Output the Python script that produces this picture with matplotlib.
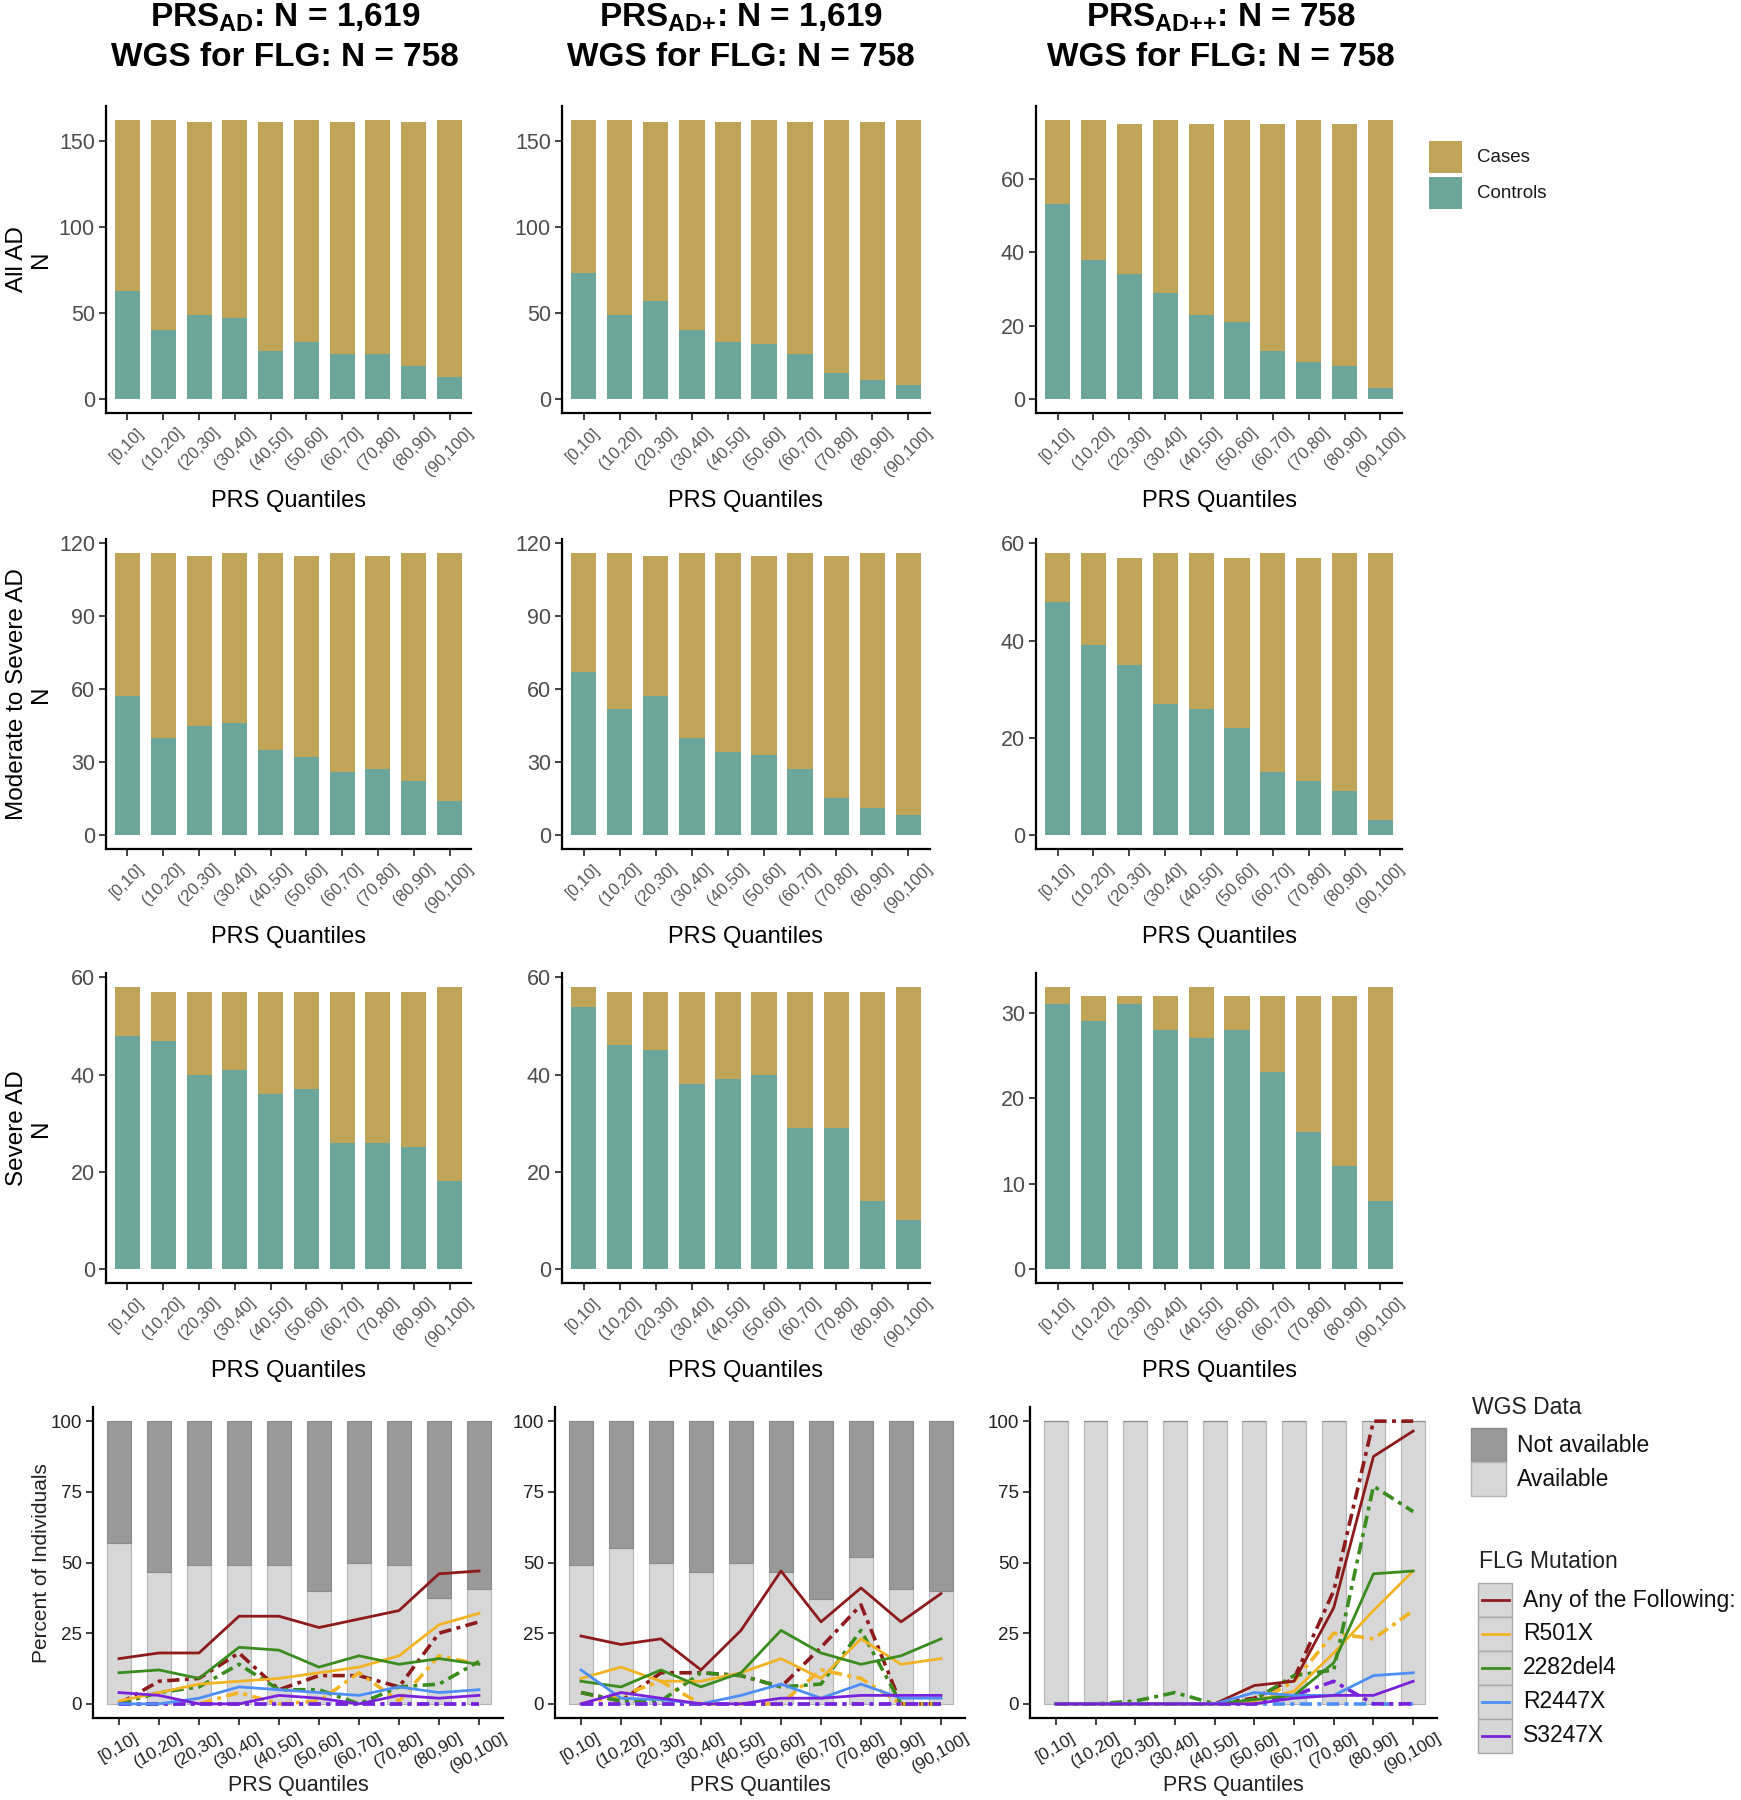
import matplotlib
matplotlib.use("Agg")
import matplotlib.pyplot as plt
from matplotlib.patches import Rectangle
from matplotlib.lines import Line2D

plt.rcParams['font.family'] = ['Liberation Sans', 'DejaVu Sans']
plt.rcParams['mathtext.default'] = 'regular'

# ---------------- data ----------------
quantiles = ["[0,10]", "(10,20]", "(20,30]", "(30,40]", "(40,50]",
             "(50,60]", "(60,70]", "(70,80]", "(80,90]", "(90,100]"]

col_titles = [r"PRS$_{AD}$: N = 1,619", r"PRS$_{AD{+}}$: N = 1,619", r"PRS$_{AD{+}{+}}$: N = 758"]
col_subtitles = ["WGS for FLG: N = 758"] * 3
row_labels = ["All AD\nN", "Moderate to Severe AD\nN", "Severe AD\nN"]

# All AD
all_controls_AD = [63, 40, 49, 47, 28, 33, 26, 26, 19, 13]
all_cases_AD = [99, 122, 112, 115, 133, 129, 135, 136, 142, 149]
all_controls_ADp = [73, 49, 57, 40, 33, 32, 26, 15, 11, 8]
all_cases_ADp = [89, 113, 104, 122, 128, 130, 135, 147, 150, 154]
all_controls_ADpp = [53, 38, 34, 29, 23, 21, 13, 10, 9, 3]
all_cases_ADpp = [23, 38, 41, 47, 52, 55, 62, 66, 66, 73]

# Moderate to severe AD
mod_controls_AD = [57, 40, 45, 46, 35, 32, 26, 27, 22, 14]
mod_cases_AD = [59, 76, 70, 70, 81, 83, 90, 88, 94, 102]
mod_controls_ADp = [67, 52, 57, 40, 34, 33, 27, 15, 11, 8]
mod_cases_ADp = [49, 64, 58, 76, 82, 82, 89, 100, 105, 108]
mod_controls_ADpp = [48, 39, 35, 27, 26, 22, 13, 11, 9, 3]
mod_cases_ADpp = [10, 19, 22, 31, 32, 35, 45, 46, 49, 55]

# Severe AD
sev_controls_AD = [48, 47, 40, 41, 36, 37, 26, 26, 25, 18]
sev_cases_AD = [10, 10, 17, 16, 21, 20, 31, 31, 32, 40]
sev_controls_ADp = [54, 46, 45, 38, 39, 40, 29, 29, 14, 10]
sev_cases_ADp = [4, 11, 12, 19, 18, 17, 28, 28, 43, 48]
sev_controls_ADpp = [31, 29, 31, 28, 27, 28, 23, 16, 12, 8]
sev_cases_ADpp = [2, 3, 1, 4, 6, 4, 9, 16, 20, 25]

# WGS availability (percent of individuals)
wgs_avail_AD = [57, 46.5, 49, 49, 49, 40, 50, 49, 37.5, 40.5]
wgs_avail_ADp = [49, 55, 50, 46.5, 50, 46.5, 37, 52, 40.5, 40]
wgs_avail_ADpp = [100, 100, 100, 100, 100, 100, 100, 100, 100, 100]

mutations = ["Any of the Following:", "R501X", "2282del4", "R2447X", "S3247X"]

# FLG mutation percentages, solid lines
flg_solid_AD = {
    "Any of the Following:": [16, 18, 18, 31, 31, 27, 30, 33, 46, 47],
    "R501X": [1, 4, 7, 8, 9, 11, 13, 17, 28, 32],
    "2282del4": [11, 12, 9, 20, 19, 13, 17, 14, 16, 14],
    "R2447X": [0, 0, 2, 6, 5, 4, 3, 6, 4, 5],
    "S3247X": [4, 3, 0, 0, 3, 2, 0, 3, 2, 3],
}
flg_dash_AD = {
    "Any of the Following:": [0, 8, 9, 18, 5, 10, 10, 6, 25, 29],
    "R501X": [0, 0, 0, 4, 0, 1, 11, 1, 17, 14],
    "2282del4": [0, 4, 6, 14, 5, 5, 0, 6, 7, 15],
    "R2447X": [0, 0, 0, 0, 0, 0, 0, 0, 0, 0],
    "S3247X": [0, 0, 0, 0, 0, 0, 0, 0, 0, 0],
}
flg_solid_ADp = {
    "Any of the Following:": [24, 21, 23, 12, 26, 47, 29, 41, 29, 39],
    "R501X": [9, 13, 8, 8, 11, 16, 9, 23, 14, 16],
    "2282del4": [8, 6, 12, 6, 11, 26, 18, 14, 17, 23],
    "R2447X": [12, 2, 1.5, 0, 3, 7, 2, 7, 2, 2],
    "S3247X": [0, 4, 2, 0, 0, 2, 2, 3, 3, 3],
}
flg_dash_ADp = {
    "Any of the Following:": [4, 1, 11, 11, 10, 6, 20, 35, 0, 0],
    "R501X": [0, 3, 8, 0, 0, 0, 12, 9, 0, 0],
    "2282del4": [4, 1, 1, 11, 10, 6, 7, 26, 0, 0],
    "R2447X": [0, 0, 0, 0, 0, 0, 0, 0, 0, 0],
    "S3247X": [0, 0, 0, 0, 0, 0, 0, 0, 0, 0],
}
flg_solid_ADpp = {
    "Any of the Following:": [0, 0, 0, 0, 0, 6.5, 8, 34, 87.5, 96.5],
    "R501X": [0, 0, 0, 0, 0, 1, 4.5, 18, 33, 47],
    "2282del4": [0, 0, 0, 0, 0, 1.5, 3, 14.5, 46, 47],
    "R2447X": [0, 0, 0, 0, 0, 4, 3, 3, 10, 11],
    "S3247X": [0, 0, 0, 0, 0, 0, 2, 3, 3, 8],
}
flg_dash_ADpp = {
    "Any of the Following:": [0, 0, 0, 0, 0, 2, 9, 40, 100, 100],
    "R501X": [0, 0, 0, 0, 0, 0, 8, 25, 23, 33],
    "2282del4": [0, 0, 1, 4, 0, 1.5, 10, 12, 77, 68],
    "R2447X": [0, 0, 0, 0, 0, 0, 0, 0, 0, 0],
    "S3247X": [0, 0, 0, 0, 0, 0, 3, 8, 0, 0],
}

# ---------------- style ----------------
C_CASES = "#C0A458"
C_CONTROLS = "#6CA59A"
C_NOTAV = "#999999"
C_AVAIL = "#D7D7D7"
mut_colors = {"Any of the Following:": "#8E1B1B", "R501X": "#F2B424",
              "2282del4": "#3B8C1F", "R2447X": "#4D8FF7", "S3247X": "#7A22DB"}
DASHDOT = (0, (3.4, 1.5, 1.1, 1.5))

W, H = 1741, 1800
fig = plt.figure(figsize=(W / 100, H / 100), dpi=100)


def add_ax(x0, y0, x1, y1):
    return fig.add_axes([x0 / W, 1 - y1 / H, (x1 - x0) / W, (y1 - y0) / H])


def style_axes(ax, ytick_size, ytick_color):
    for s in ("top", "right"):
        ax.spines[s].set_visible(False)
    for s in ("left", "bottom"):
        ax.spines[s].set_linewidth(1.6)
        ax.spines[s].set_color("black")
    ax.tick_params(axis="both", length=5, width=1.3, color="#333333")
    ax.tick_params(axis="y", labelsize=ytick_size, labelcolor=ytick_color, pad=3)


col_x = [(106, 471), (562, 930), (1036, 1402)]
row_y = [(106, 413), (539, 849), (973, 1283)]
xlabel_y = [501, 937, 1371]

bar_rows = [
    [(all_controls_AD, all_cases_AD, [0, 50, 100, 150]),
     (all_controls_ADp, all_cases_ADp, [0, 50, 100, 150]),
     (all_controls_ADpp, all_cases_ADpp, [0, 20, 40, 60])],
    [(mod_controls_AD, mod_cases_AD, [0, 30, 60, 90, 120]),
     (mod_controls_ADp, mod_cases_ADp, [0, 30, 60, 90, 120]),
     (mod_controls_ADpp, mod_cases_ADpp, [0, 20, 40, 60])],
    [(sev_controls_AD, sev_cases_AD, [0, 20, 40, 60]),
     (sev_controls_ADp, sev_cases_ADp, [0, 20, 40, 60]),
     (sev_controls_ADpp, sev_cases_ADpp, [0, 10, 20, 30])],
]

x = list(range(len(quantiles)))

for r in range(3):
    for c in range(3):
        ctrl, cases, yt = bar_rows[r][c]
        ax = add_ax(col_x[c][0], row_y[r][0], col_x[c][1], row_y[r][1])
        ax.bar(x, ctrl, width=0.7, color=C_CONTROLS, edgecolor="none")
        ax.bar(x, cases, width=0.7, bottom=ctrl, color=C_CASES, edgecolor="none")
        top = max(a + b for a, b in zip(ctrl, cases))
        ax.set_ylim(-0.05 * top, 1.05 * top)
        ax.set_xlim(-0.6, len(quantiles) - 0.4)
        ax.set_yticks(yt)
        ax.set_xticks(x)
        ax.set_xticklabels(quantiles, rotation=45, ha="center", va="top",
                           fontsize=12, color="#555555")
        style_axes(ax, 15.5, "#4D4D4D")
        cx = (col_x[c][0] + col_x[c][1]) / 2
        fig.text(cx / W, 1 - xlabel_y[r] / H, "PRS Quantiles", ha="center", va="center",
                 fontsize=17, color="black")
    fig.text(29 / W, 1 - (row_y[r][0] + row_y[r][1]) / 2 / H, row_labels[r],
             rotation=90, ha="center", va="center", fontsize=17.5, linespacing=1.15,
             multialignment="center")

# column titles
title_cx = [285, 741, 1221]
for c in range(3):
    fig.text(title_cx[c] / W, 1 - 18 / H, col_titles[c], ha="center", va="center",
             fontsize=24, fontweight="bold")
    fig.text(title_cx[c] / W, 1 - 58 / H, col_subtitles[c], ha="center", va="center",
             fontsize=24, fontweight="bold")

# bottom row
bot_x = [(93, 503), (555, 965), (1030, 1437)]
bot_y = (1407, 1718)
avails = [wgs_avail_AD, wgs_avail_ADp, wgs_avail_ADpp]
solids = [flg_solid_AD, flg_solid_ADp, flg_solid_ADpp]
dashes = [flg_dash_AD, flg_dash_ADp, flg_dash_ADpp]

for c in range(3):
    ax = add_ax(bot_x[c][0], bot_y[0], bot_x[c][1], bot_y[1])
    av = avails[c]
    notav = [100 - v for v in av]
    ax.bar(x, av, width=0.6, color=C_AVAIL, edgecolor="#B5B5B5", linewidth=0.8, zorder=1)
    ax.bar(x, notav, width=0.6, bottom=av, color=C_NOTAV, edgecolor="#8A8A8A",
           linewidth=0.8, zorder=1)
    for m in mutations:
        ax.plot(x, dashes[c][m], color=mut_colors[m], lw=2.6, linestyle=DASHDOT, zorder=3)
    for m in mutations:
        ax.plot(x, solids[c][m], color=mut_colors[m], lw=2.0, zorder=4)
    ax.set_ylim(-5, 105)
    ax.set_xlim(-0.65, len(quantiles) - 0.4)
    ax.set_yticks([0, 25, 50, 75, 100])
    ax.set_xticks(x)
    ax.set_xticklabels(quantiles, rotation=30, ha="center", va="top",
                       fontsize=12.5, color="#222222")
    style_axes(ax, 13.5, "#222222")
    cx = (bot_x[c][0] + bot_x[c][1]) / 2
    fig.text(cx / W, 1 - 1786 / H, "PRS Quantiles", ha="center", va="center",
             fontsize=15.5, color="#222222")

fig.text(42 / W, 1 - 1563 / H, "Percent of Individuals", rotation=90, ha="center",
         va="center", fontsize=15, color="#222222")

# ---------------- legends (overlay in pixel coords) ----------------
lg = fig.add_axes([0, 0, 1, 1])
lg.set_xlim(0, W)
lg.set_ylim(H, 0)
lg.axis("off")
lg.patch.set_alpha(0)

# Cases / Controls
for i, (lab, colr) in enumerate([("Cases", C_CASES), ("Controls", C_CONTROLS)]):
    y0 = 141 + i * 36
    lg.add_patch(Rectangle((1429, y0), 33, 32, facecolor=colr, edgecolor="none"))
    lg.text(1477, y0 + 16, lab, ha="left", va="center", fontsize=13.5, color="#1a1a1a")

# WGS Data
lg.text(1472, 1407, "WGS Data", ha="left", va="center", fontsize=16.5, color="#222222")
for i, (lab, colr, ec) in enumerate([("Not available", C_NOTAV, "#8A8A8A"),
                                      ("Available", C_AVAIL, "#B5B5B5")]):
    y0 = 1428 + i * 34
    lg.add_patch(Rectangle((1471, y0), 35, 34, facecolor=colr, edgecolor=ec, lw=1))
    lg.text(1517, y0 + 17, lab, ha="left", va="center", fontsize=16.5, color="#111111")

# FLG Mutation
lg.text(1479, 1562, "FLG Mutation", ha="left", va="center", fontsize=16.5, color="#222222")
for i, m in enumerate(mutations):
    y0 = 1583 + i * 34
    lg.add_patch(Rectangle((1478, y0), 34, 34, facecolor=C_AVAIL, edgecolor="#A8A8A8", lw=1))
    lg.add_line(Line2D([1482, 1509], [y0 + 17, y0 + 17], color=mut_colors[m], lw=2.0))
    lg.text(1523, y0 + 17, m, ha="left", va="center", fontsize=16.5, color="#111111")

fig.savefig("out.png", dpi=100)
